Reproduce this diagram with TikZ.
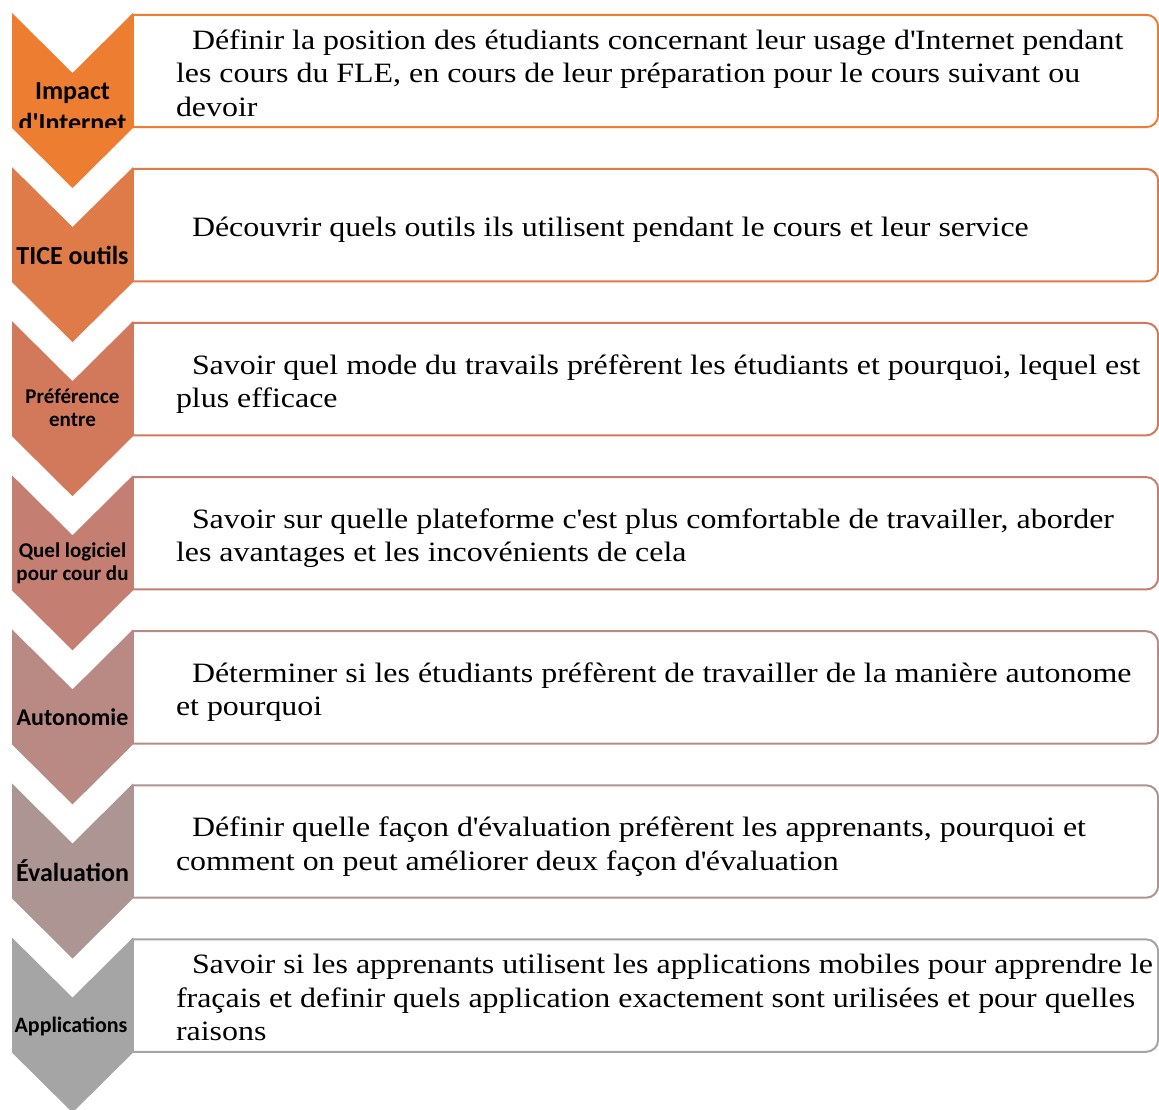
\documentclass[tikz,border=0pt]{standalone}
\usepackage{fontspec}
\setmainfont{Liberation Serif}[FakeStretch=1.14]
\newfontfamily\chevfont{Carlito}
\usetikzlibrary{calc}
\definecolor{c1}{HTML}{ED7D31}
\definecolor{c2}{HTML}{DF7B48}
\definecolor{c3}{HTML}{D2795C}
\definecolor{c4}{HTML}{C47E72}
\definecolor{c5}{HTML}{B98983}
\definecolor{c6}{HTML}{AD9594}
\definecolor{c7}{HTML}{A5A5A5}
\tikzset{
  boxnode/.style={minimum width=1025pt, minimum height=112pt, inner sep=0pt, draw=none},
  txt/.style={anchor=base west, inner sep=0pt, font=\fontsize{28}{33}\selectfont},
  chv/.style={anchor=base, inner sep=0pt},
}
\newcommand{\cq}{\textquotesingle}
\begin{document}
\begin{tikzpicture}[x=1pt,y=1pt]
\useasboundingbox (0,0) rectangle (1159,1109);
\fill[white] (0,0) rectangle (1159,1109);
\foreach \i/\col in {0/c1,1/c2,2/c3,3/c4,4/c5,5/c6,6/c7} {
  \pgfmathsetmacro\Yt{1096-154.1*\i}
  \fill[\col] (12,\Yt) -- (72.5,\Yt-60) -- (133,\Yt) -- (133,\Yt-115) -- (72.5,\Yt-175) -- (12,\Yt-115) -- cycle;
  \node[boxnode] (box\i) at (645.5,\Yt-58) {};
  \fill[white] (box\i.south west) -- (box\i.north west) -- ($(box\i.north east)+(-12,0)$) arc[start angle=90,end angle=0,radius=12] -- ($(box\i.south east)+(0,12)$) arc[start angle=0,end angle=-90,radius=12] -- cycle;
  \draw[\col, line width=2pt] (box\i.south west) -- (box\i.north west) -- ($(box\i.north east)+(-12,0)$) arc[start angle=90,end angle=0,radius=12] -- ($(box\i.south east)+(0,12)$) arc[start angle=0,end angle=-90,radius=12] -- cycle;
}
% chevron labels
\begin{scope}
\clip (12,1096) rectangle (133,981);
\node[chv, font=\chevfont\bfseries\fontsize{26}{28}\selectfont] (l1a) at (72.5,1009) {Impact};
\node[chv, font=\chevfont\bfseries\fontsize{26}{28}\selectfont] (l1b) at (72.5,977.5) {d\cq Internet};
\end{scope}
\node[chv, font=\chevfont\bfseries\fontsize{26}{28}\selectfont] (l2) at (72.5,844.9) {TICE outils};
\node[chv, font=\chevfont\bfseries\fontsize{21}{23}\selectfont] (l3a) at (72.5,705) {Préférence};
\node[chv, font=\chevfont\bfseries\fontsize{21}{23}\selectfont] (l3b) at (72.5,682) {entre};
\node[chv, font=\chevfont\bfseries\fontsize{21}{23}\selectfont] (l4a) at (72.5,551) {Quel logiciel};
\node[chv, font=\chevfont\bfseries\fontsize{21}{23}\selectfont] (l4b) at (72.5,528) {pour cour du};
\node[chv, font=\chevfont\bfseries\fontsize{24}{26}\selectfont] (l5) at (72.5,383) {Autonomie};
\node[chv, font=\chevfont\bfseries\fontsize{26}{28}\selectfont] (l6) at (72.5,228) {Évaluation};
\node[chv, font=\chevfont\bfseries\fontsize{22}{24}\selectfont] (l7) at (71,77) {Applications};
% box texts
\node[txt] (t0a) at ($(box0.north west)+(59,-34.5)$) {Définir la position des étudiants concernant leur usage d\cq Internet pendant};
\node[txt] (t0b) at ($(box0.north west)+(43,-68)$) {les cours du FLE, en cours de leur préparation pour le cours suivant ou};
\node[txt] (t0c) at ($(box0.north west)+(43,-101.5)$) {devoir};
\node[txt] (t1a) at ($(box1.north west)+(59,-68)$) {Découvrir quels outils ils utilisent pendant le cours et leur service};
\node[txt] (t2a) at ($(box2.north west)+(59,-51.25)$) {Savoir quel mode du travails préfèrent les étudiants et pourquoi, lequel est};
\node[txt] (t2b) at ($(box2.north west)+(43,-84.75)$) {plus efficace};
\node[txt] (t3a) at ($(box3.north west)+(59,-51.25)$) {Savoir sur quelle plateforme c\cq est plus comfortable de travailler, aborder};
\node[txt] (t3b) at ($(box3.north west)+(43,-84.75)$) {les avantages et les incovénients de cela};
\node[txt] (t4a) at ($(box4.north west)+(59,-51.25)$) {Déterminer si les étudiants préfèrent de travailler de la manière autonome};
\node[txt] (t4b) at ($(box4.north west)+(43,-84.75)$) {et pourquoi};
\node[txt] (t5a) at ($(box5.north west)+(59,-51.25)$) {Définir quelle façon d\cq évaluation préfèrent les apprenants, pourquoi et};
\node[txt] (t5b) at ($(box5.north west)+(43,-84.75)$) {comment on peut améliorer deux façon d\cq évaluation};
\node[txt] (t6a) at ($(box6.north west)+(59,-34.5)$) {Savoir si les apprenants utilisent les applications mobiles pour apprendre le};
\node[txt] (t6b) at ($(box6.north west)+(43,-68)$) {fraçais et definir quels application exactement sont urilisées et pour quelles};
\node[txt] (t6c) at ($(box6.north west)+(43,-101.5)$) {raisons};
\end{tikzpicture}
\end{document}
